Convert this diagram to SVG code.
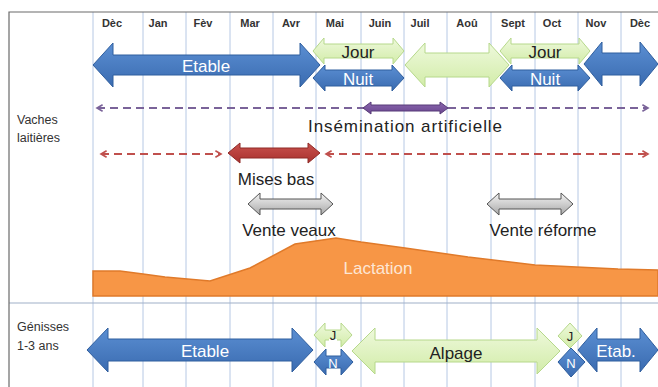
<svg xmlns="http://www.w3.org/2000/svg" width="658" height="387" viewBox="0 0 658 387">
<defs>
<linearGradient id="gBlue" x1="0" y1="0" x2="0" y2="1"><stop offset="0" stop-color="#5b8fd3"/><stop offset="1" stop-color="#3a6bb0"/></linearGradient>
<linearGradient id="gGreen" x1="0" y1="0" x2="0" y2="1"><stop offset="0" stop-color="#eef9dc"/><stop offset="1" stop-color="#d2eca8"/></linearGradient>
<linearGradient id="gGray" x1="0" y1="0" x2="0" y2="1"><stop offset="0" stop-color="#f4f4f4"/><stop offset="1" stop-color="#a8a8a8"/></linearGradient>
<linearGradient id="gRed" x1="0" y1="0" x2="0" y2="1"><stop offset="0" stop-color="#c9524e"/><stop offset="1" stop-color="#a8302d"/></linearGradient>
<linearGradient id="gPurple" x1="0" y1="0" x2="0" y2="1"><stop offset="0" stop-color="#8a67ae"/><stop offset="1" stop-color="#6a468f"/></linearGradient>
<marker id="chevP" viewBox="0 0 10 10" refX="8" refY="5" markerWidth="8" markerHeight="8" markerUnits="userSpaceOnUse" orient="auto-start-reverse"><path d="M1,1 L8,5 L1,9" fill="none" stroke="#7a6399" stroke-width="2"/></marker>
<marker id="chevR" viewBox="0 0 10 10" refX="8" refY="5" markerWidth="8" markerHeight="8" markerUnits="userSpaceOnUse" orient="auto-start-reverse"><path d="M1,1 L8,5 L1,9" fill="none" stroke="#c0504d" stroke-width="2"/></marker>
</defs>
<style>
.grid{stroke:#b6c8e4;stroke-width:1}
.frame{stroke:#6a6a6a;stroke-width:1.2;fill:none}
.month{font-family:"Liberation Sans",Arial,sans-serif;font-size:11px;font-weight:bold;fill:#333;text-anchor:middle}
.lab{font-family:"Liberation Sans",Arial,sans-serif;font-size:12.5px;fill:#333}
.t{font-family:"Liberation Sans",Arial,sans-serif;font-size:17px;text-anchor:middle}
.w{fill:#ffffff}
.d{fill:#222}
.blue{fill:url(#gBlue);stroke:#2f5e9e;stroke-width:1}
.green{fill:url(#gGreen);stroke:#b6d88b;stroke-width:1}
.gray{fill:url(#gGray);stroke:#555;stroke-width:1}
.red{fill:url(#gRed);stroke:#8f2a27;stroke-width:1}
.purple{fill:url(#gPurple);stroke:#563a78;stroke-width:1}
.dashP{stroke:#7a6399;stroke-width:2;stroke-dasharray:8 5;fill:none}
.dashR{stroke:#c0504d;stroke-width:2;stroke-dasharray:8 5;fill:none}
</style>
<rect x="0" y="0" width="658" height="387" fill="#fff"/>
<g id="grid">
<line class="grid" x1="93" y1="12" x2="93" y2="387"/>
<line class="grid" x1="143" y1="12" x2="143" y2="387"/>
<line class="grid" x1="186" y1="12" x2="186" y2="387"/>
<line class="grid" x1="230" y1="12" x2="230" y2="387"/>
<line class="grid" x1="273" y1="12" x2="273" y2="387"/>
<line class="grid" x1="316" y1="12" x2="316" y2="387"/>
<line class="grid" x1="361" y1="12" x2="361" y2="387"/>
<line class="grid" x1="404" y1="12" x2="404" y2="387"/>
<line class="grid" x1="447" y1="12" x2="447" y2="387"/>
<line class="grid" x1="491" y1="12" x2="491" y2="387"/>
<line class="grid" x1="535" y1="12" x2="535" y2="387"/>
<line class="grid" x1="578" y1="12" x2="578" y2="387"/>
<line class="grid" x1="621" y1="12" x2="621" y2="387"/>
<line x1="9" y1="303" x2="658" y2="303" stroke="#9fb0c8" stroke-width="1.2"/>
<path class="frame" d="M658,12 H9 V387"/>
</g>
<g id="months">
<text class="month" x="112" y="27">Dèc</text>
<text class="month" x="158" y="27">Jan</text>
<text class="month" x="203" y="27">Fèv</text>
<text class="month" x="250" y="27">Mar</text>
<text class="month" x="291" y="27">Avr</text>
<text class="month" x="335" y="27">Mai</text>
<text class="month" x="380" y="27">Juin</text>
<text class="month" x="420" y="27">Juil</text>
<text class="month" x="467" y="27">Aoû</text>
<text class="month" x="513" y="27">Sept</text>
<text class="month" x="552" y="27">Oct</text>
<text class="month" x="596" y="27">Nov</text>
<text class="month" x="640" y="27">Dèc</text>
</g>
<g id="labels">
<text class="lab" x="17" y="124">Vaches</text>
<text class="lab" x="17" y="142">laitières</text>
<text class="lab" x="17" y="331">Génisses</text>
<text class="lab" x="17" y="350">1-3 ans</text>
</g>
<g id="lactation">
<path d="M93,296 V271 L120,271 L143,274 L165,277 L210,281 L250,268 L295,244 L336,238 L361,242 L405,248 L468,257 L535,265 L618,269 L658,270 V296 Z" fill="#f79646" stroke="#e07a2a" stroke-width="1.5"/>
<text class="t" x="378" y="274" fill="#fde6d4" font-size="18">Lactation</text>
</g>
<g id="connectors">
<line class="dashP" x1="97" y1="108" x2="648" y2="108" marker-start="url(#chevP)" marker-end="url(#chevP)"/>
<line class="dashR" x1="101" y1="154" x2="221" y2="154" marker-start="url(#chevR)" marker-end="url(#chevR)"/>
<line class="dashR" x1="326" y1="154" x2="648" y2="154" marker-start="url(#chevR)" marker-end="url(#chevR)"/>
</g>
<g id="etable-vaches">
<path class="blue" d="M93,65 L113,43 L113,55 L300,55 L300,43 L320,65 L300,87 L300,75 L113,75 L113,87 Z"/>
<text class="t w" x="206" y="72" font-size="18">Etable</text>
</g>
<g id="paturage-ete">
<path class="green" d="M405,65 L425,43 L425,53 L489,53 L489,43 L509,65 L489,87 L489,77 L425,77 L425,87 Z"/>
</g>
<g id="jour-1">
<path class="green" d="M313,51 L324,38 L324,44 L393,44 L393,38 L404,51 L393,64 L393,58 L324,58 L324,64 Z"/>
<text class="t d" x="358" y="58" font-size="18">Jour</text>
</g>
<g id="nuit-1">
<path class="blue" d="M313,78 L325,65 L325,70 L392,70 L392,65 L404,78 L392,91 L392,86 L325,86 L325,91 Z"/>
<text class="t w" x="358" y="85" font-size="18">Nuit</text>
</g>
<g id="jour-2">
<path class="green" d="M500,51 L511,38 L511,44 L579,44 L579,38 L590,51 L579,64 L579,58 L511,58 L511,64 Z"/>
<text class="t d" x="545" y="58" font-size="18">Jour</text>
</g>
<g id="nuit-2">
<path class="blue" d="M500,78 L512,65 L512,70 L578,70 L578,65 L590,78 L578,91 L578,86 L512,86 L512,91 Z"/>
<text class="t w" x="545" y="85" font-size="18">Nuit</text>
</g>
<g id="etable-hiver">
<path class="blue" d="M584,64 L602,42 L602,53 L640,53 L640,42 L658,64 L640,86 L640,75 L602,75 L602,86 Z"/>
</g>
<g id="insemination">
<path class="purple" d="M363,108 L371,102 L371,105 L440,105 L440,102 L448,108 L440,114 L440,111 L371,111 L371,114 Z"/>
<text class="t d" x="405" y="132" font-size="17.5" textLength="194" lengthAdjust="spacing">Insémination artificielle</text>
</g>
<g id="mises-bas">
<path class="red" d="M228,153 L240,143 L240,148 L308,148 L308,143 L320,153 L308,163 L308,158 L240,158 L240,163 Z"/>
<text class="t d" x="276" y="185" font-size="17.5">Mises bas</text>
</g>
<g id="vente-veaux">
<path class="gray" d="M248,204 L260,193 L260,199 L321,199 L321,193 L333,204 L321,215 L321,209 L260,209 L260,215 Z"/>
<text class="t d" x="289" y="236" font-size="17.5">Vente veaux</text>
</g>
<g id="vente-reforme">
<path class="gray" d="M487,204 L499,193 L499,199 L561,199 L561,193 L573,204 L561,215 L561,209 L499,209 L499,215 Z"/>
<text class="t d" x="543" y="236" font-size="17.5">Vente réforme</text>
</g>
<g id="etable-genisses">
<path class="blue" d="M87,350 L108,328 L108,339 L292,339 L292,328 L313,350 L292,372 L292,361 L108,361 L108,372 Z"/>
<text class="t w" x="205" y="357" font-size="18">Etable</text>
</g>
<g id="j-1">
<path class="green" d="M314,335 L325,323 L325,330 L341,330 L341,323 L352,335 L341,347 L341,340 L325,340 L325,347 Z"/>
<rect x="329" y="339" width="8" height="8" fill="#fff"/>
<text x="333" y="340" text-anchor="middle" font-family="Liberation Sans, Arial, sans-serif" font-size="13" fill="#222">J</text>
</g>
<g id="n-1">
<path class="blue" d="M314,362 L326,349 L326,356 L341,356 L341,349 L353,362 L341,375 L341,368 L326,368 L326,375 Z"/>
<rect x="328" y="348" width="11" height="6" fill="#fff"/>
<text x="333" y="368" text-anchor="middle" font-family="Liberation Sans, Arial, sans-serif" font-size="13" fill="#fff">N</text>
</g>
<g id="alpage">
<path class="green" d="M352,351 L375,328 L375,340 L537,340 L537,328 L560,351 L537,374 L537,362 L375,362 L375,374 Z"/>
<text class="t d" x="456" y="359" font-size="18">Alpage</text>
</g>
<g id="j-2">
<path class="green" d="M558,336 L570,323 L582,336 L570,348 Z"/>
<text x="570" y="341" text-anchor="middle" font-family="Liberation Sans, Arial, sans-serif" font-size="13" fill="#222">J</text>
</g>
<g id="n-2">
<path class="blue" d="M558,362 L571,348 L585,362 L571,377 Z"/>
<text x="571" y="368" text-anchor="middle" font-family="Liberation Sans, Arial, sans-serif" font-size="13" fill="#fff">N</text>
</g>
<g id="etab-genisses">
<path class="blue" d="M578,350 L597,328 L597,339 L640,339 L640,328 L658,350 L640,372 L640,361 L597,361 L597,372 Z"/>
<text class="t w" x="616" y="357" font-size="18">Etab.</text>
</g>
</svg>
